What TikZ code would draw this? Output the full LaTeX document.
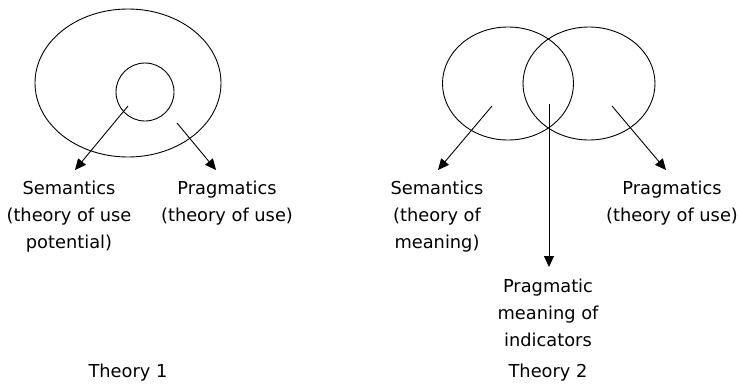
\documentclass[tikz,border=0pt]{standalone}
\usepackage{fontspec}
\setmainfont{DejaVu Sans}
\usepackage{xcolor}
\usepackage{tikz}
\usetikzlibrary{calc,arrows.meta,positioning,shapes.geometric}
\definecolor{lingInk}{RGB}{0,0,0}

\begin{document}
\begin{tikzpicture}[x=1pt,y=-1pt,
    area/.style={draw=lingInk, ellipse, inner sep=0pt, line width=0.9pt},
    pointer/.style={draw=lingInk, line width=0.9pt, -{Triangle[length=11pt,width=10pt]}},
    gloss/.style={text=lingInk, align=center, inner sep=0pt, anchor=north, font=\fontsize{17.8}{27}\selectfont}]
    \useasboundingbox (0,0) rectangle (739,383);

    % theory 1: nested areas
    \node[area, minimum width=186pt, minimum height=148pt] (whole) at (128,83) {};
    \node[area, circle, minimum size=58pt] (core) at (145,92) {};
    \coordinate (semFrom) at (128,106);
    \coordinate (pragFrom) at (177,123);

    \node[gloss] (sem) at (69,181) {Semantics\\(theory of use\\potential)};
    \node[gloss] (prag) at (227,181) {Pragmatics\\(theory of use)};
    \draw[pointer] (semFrom) -- ($(sem.north)+(6,-11)$);
    \draw[pointer] (pragFrom) -- ($(prag.north)+(-11,-11)$);

    \node[gloss] (thOne) at (128,364) {Theory 1};

    % theory 2: overlapping areas
    \node[area, minimum width=131pt, minimum height=113pt] (meaning) at (508,83.5) {};
    \node[area, minimum width=132pt, minimum height=113pt] (use) at (589,83.5) {};
    \coordinate (semTwoFrom) at (492,106);
    \coordinate (indFrom) at (549,104);
    \coordinate (pragTwoFrom) at (612,106);

    \node[gloss] (semTwo) at (437,181) {Semantics\\(theory of\\meaning)};
    \node[gloss] (pragTwo) at (672,181) {Pragmatics\\(theory of use)};
    \node[gloss] (ind) at (548,279) {Pragmatic\\meaning of\\indicators};
    \draw[pointer] (semTwoFrom) -- ($(semTwo.north)+(1,-11)$);
    \draw[pointer] (pragTwoFrom) -- ($(pragTwo.north)+(-6,-11)$);
    \draw[pointer] (indFrom) -- ($(ind.north)+(1,-12)$);

    \node[gloss] (thTwo) at (548,364) {Theory 2};
\end{tikzpicture}
\end{document}
